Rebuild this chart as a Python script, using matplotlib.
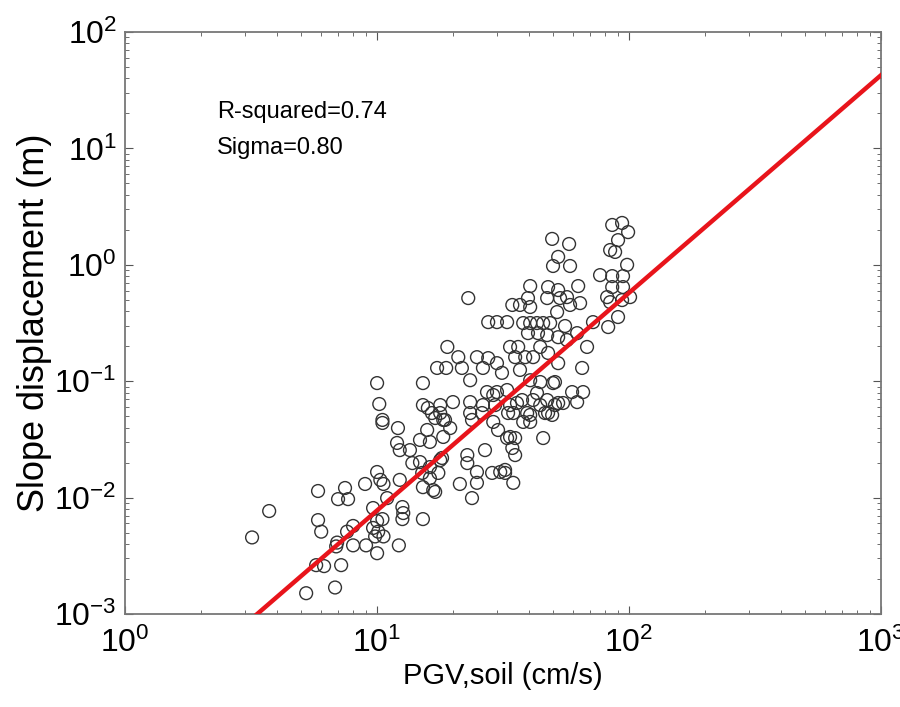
import matplotlib
matplotlib.use("Agg")
import matplotlib.pyplot as plt
import numpy as np

plt.rcParams['font.family'] = ['Liberation Sans', 'DejaVu Sans']
plt.rcParams['mathtext.fontset'] = 'custom'
plt.rcParams['mathtext.rm'] = 'Liberation Sans'
plt.rcParams['mathtext.it'] = 'Liberation Sans'

# PGV on soil (cm/s)
pgv = [3.19, 3.73, 5.83, 5.83, 6.0, 6.94, 6.88, 5.73, 6.16, 7.2, 5.23, 6.81,
       7.46, 7.0, 7.67, 8.03, 7.6, 8.03, 9.04, 10.0, 8.96, 10.0, 10.3, 10.6,
       9.64, 10.96, 10.0, 10.5, 9.64, 10.1, 10.6, 9.82, 12.3, 12.6, 12.6, 12.7,
       12.2, 15.2, 10.2, 10.5, 10.5, 12.1, 12.0, 12.3, 13.5, 14.8, 16.2, 15.8,
       13.8, 14.8, 15.1, 15.2, 17.0, 16.2, 17.5, 17.8, 15.2, 16.5, 17.8, 18.3,
       18.3, 19.0, 17.3, 18.8, 10.0, 15.2, 15.9,
       23.0, 49.5, 57.8, 52.3, 49.9, 58.3, 85.7, 93.8, 99.1, 90.4, 84.1, 88.0,
       98.2, 76.7, 85.7, 94.6, 85.7, 94.6, 81.8, 84.1, 93.8, 100.9, 82.6, 90.4,
       40.5, 47.7, 52.3, 56.7, 62.8, 63.9, 39.7, 47.3, 53.2, 34.4, 36.9, 40.5,
       51.8, 58.3, 27.6, 29.9, 32.8, 38.0, 40.5, 43.1, 45.6, 48.6, 55.7, 71.9,
       39.7, 43.5, 47.3, 52.3, 56.7, 62.2, 68.1, 21.0, 21.7, 23.4, 24.9, 26.3,
       27.6, 29.9, 31.3, 33.7, 36.3, 35.3, 38.7, 41.6, 44.4, 47.7, 52.3, 36.9,
       40.5, 44.4, 50.8, 65.1, 59.4, 65.7, 62.2, 20.0, 23.4, 27.3, 29.9, 32.8,
       26.3, 29.4, 33.7, 37.6, 41.6, 47.3, 52.3, 17.8, 23.4, 34.7, 40.5, 47.7,
       17.0, 18.6, 19.5, 23.8, 26.1, 28.9, 28.9, 30.2, 33.1, 35.9, 39.4, 38.0,
       40.5, 33.7, 35.3, 34.4, 35.3, 44.4, 46.4, 49.5, 43.1, 49.9, 54.7, 45.6,
       26.8, 22.8, 22.8, 24.9, 28.6, 30.8, 32.2, 21.3, 24.9, 34.7, 23.8, 16.7,
       16.2, 18.1, 32.8, 32.2, 50.8]

# slope displacement (m)
disp = [0.00455, 0.00767, 0.0114, 0.00641, 0.0051, 0.00411, 0.00381, 0.00263,
        0.00258, 0.00263, 0.00151, 0.00169, 0.0121, 0.00971, 0.00971, 0.00571,
        0.0051, 0.00389, 0.00389, 0.00333, 0.0131, 0.0166, 0.0142, 0.0131,
        0.00814, 0.00991, 0.00629, 0.00654, 0.00549, 0.0051, 0.00464, 0.00464,
        0.0142, 0.0083, 0.00654, 0.00737, 0.00389, 0.00654, 0.0637, 0.0465,
        0.0438, 0.0396, 0.0295, 0.0256, 0.0256, 0.0313, 0.0301, 0.0381, 0.0198,
        0.0202, 0.0163, 0.0123, 0.0112, 0.0147, 0.0163, 0.021, 0.0624, 0.0533,
        0.0624, 0.0465, 0.0332, 0.197, 0.13, 0.13, 0.0964, 0.0964, 0.0589,
        0.518, 1.67, 1.51, 1.17, 0.977, 0.977, 2.2, 2.29, 1.91, 1.63, 1.34, 1.29,
        1.0, 0.816, 0.8, 0.8, 0.644, 0.644, 0.528, 0.478, 0.498, 0.528, 0.292,
        0.356, 0.657, 0.644, 0.607, 0.528, 0.657, 0.469, 0.518, 0.518, 0.518,
        0.452, 0.452, 0.434, 0.393, 0.452, 0.322, 0.322, 0.322, 0.316, 0.316,
        0.316, 0.316, 0.316, 0.298, 0.322, 0.259, 0.259, 0.249, 0.239, 0.226,
        0.259, 0.197, 0.161, 0.13, 0.102, 0.161, 0.13, 0.158, 0.143, 0.118,
        0.197, 0.197, 0.161, 0.161, 0.161, 0.197, 0.175, 0.143, 0.125, 0.102,
        0.0984, 0.0984, 0.13, 0.0807, 0.0807, 0.0662, 0.0662, 0.0662, 0.0807,
        0.0807, 0.084, 0.0624, 0.0624, 0.0624, 0.0689, 0.0689, 0.0689, 0.065,
        0.0533, 0.0533, 0.0533, 0.0513, 0.0533, 0.0483, 0.0465, 0.0396, 0.0465,
        0.0533, 0.0761, 0.0447, 0.0381, 0.0533, 0.065, 0.0533, 0.0447, 0.0447,
        0.0332, 0.0325, 0.0267, 0.0232, 0.0624, 0.0533, 0.0513, 0.0792, 0.0964,
        0.065, 0.0325, 0.0256, 0.0232, 0.0198, 0.0166, 0.0163, 0.0166, 0.0163,
        0.0131, 0.0134, 0.0134, 0.00991, 0.0116, 0.0183, 0.0219, 0.0325,
        0.0173, 0.0624]

# fitted line: log10(D) = a + b*log10(PGV)
fit_a = -3.98
fit_b = 1.87
r_squared = 0.74
sigma = 0.80

fig = plt.figure(figsize=(9, 7.07), dpi=100)
ax = fig.add_axes([0.139, 0.1315, 0.840, 0.8232])

ax.scatter(pgv, disp, s=85, facecolors='none', edgecolors='#333333',
           linewidths=1.0, zorder=2)

xl = np.logspace(0, 3, 200)
ax.plot(xl, 10 ** (fit_a + fit_b * np.log10(xl)), color='#e8141b', lw=3.2, zorder=3)

ax.set_xscale('log')
ax.set_yscale('log')
ax.set_xlim(1, 1000)
ax.set_ylim(1e-3, 1e2)

for s in ax.spines.values():
    s.set_color('#777777')
    s.set_linewidth(1.3)
ax.tick_params(which='both', direction='in', top=True, right=True, color='#555555')
ax.tick_params(which='major', length=6, labelsize=23, pad=10)
ax.tick_params(axis='y', which='major', pad=6)
ax.tick_params(which='minor', length=3)

ax.set_xlabel('PGV,soil (cm/s)', fontsize=21, labelpad=2)
ax.set_ylabel('Slope displacement (m)', fontsize=26, labelpad=2)

ax.text(0.122, 0.863, f'R-squared={r_squared:.2f}', transform=ax.transAxes,
        fontsize=17, va='center')
ax.text(0.122, 0.800, f'Sigma={sigma:.2f}', transform=ax.transAxes,
        fontsize=17, va='center')

fig.savefig('out.png', dpi=100)
